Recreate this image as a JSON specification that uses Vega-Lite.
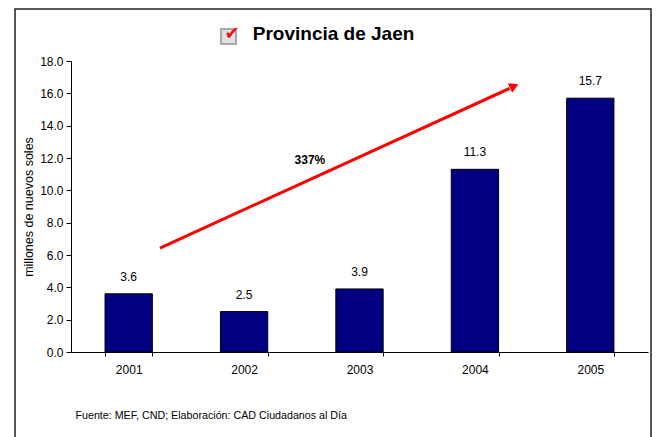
{
  "$schema": "https://vega.github.io/schema/vega-lite/v6.json",
  "width": 577,
  "height": 291,
  "autosize": "none",
  "padding": {"left": 71, "top": 61, "right": 16, "bottom": 85},
  "background": "white",
  "config": {
    "view": {"stroke": null},
    "font": "Liberation Sans",
    "axis": {"labelFont": "Liberation Sans", "titleFont": "Liberation Sans", "labelColor": "black", "titleColor": "black", "domainColor": "black", "tickColor": "black", "grid": false, "labelOverlap": false}
  },
  "data": {
    "values": [
      {"year": "2001", "value": 3.6},
      {"year": "2002", "value": 2.5},
      {"year": "2003", "value": 3.9},
      {"year": "2004", "value": 11.3},
      {"year": "2005", "value": 15.7}
    ]
  },
  "layer": [
    {
      "layer": [
        {
          "mark": {"type": "bar", "color": "#000080", "stroke": "black", "strokeWidth": 1},
          "encoding": {
            "x": {
              "field": "year", "type": "nominal",
              "scale": {"paddingInner": 0.59, "paddingOuter": 0.295},
              "axis": {
                "labelAngle": 0, "tickBand": "extent", "tickSize": 4, "labelPadding": 8, "labelFontSize": 12,
                "title": "Fuente: MEF, CND; Elaboración: CAD Ciudadanos al Día",
                "titleFontSize": 10.7, "titleFontWeight": "normal", "titleAnchor": "start", "titleAlign": "left",
                "titleX": 4, "titleY": 63, "titleBaseline": "middle"
              }
            },
            "y": {
              "field": "value", "type": "quantitative",
              "scale": {"domain": [0, 18], "nice": false},
              "axis": {
                "values": [0, 2, 4, 6, 8, 10, 12, 14, 16, 18], "format": ".1f", "tickSize": 5, "labelPadding": 3, "labelFontSize": 12, "labelOverlap": false,
                "title": "millones de nuevos soles", "titleFontSize": 12.5, "titleFontWeight": "normal", "titlePadding": 4
              }
            }
          }
        },
        {
          "mark": {"type": "text", "fontSize": 12, "baseline": "alphabetic", "dy": -13, "color": "black"},
          "encoding": {
            "x": {"field": "year", "type": "nominal"},
            "y": {
              "field": "value", "type": "quantitative",
              "axis": {
                "values": [0, 2, 4, 6, 8, 10, 12, 14, 16, 18], "format": ".1f", "tickSize": 5, "labelPadding": 3, "labelFontSize": 12, "labelOverlap": false,
                "title": "millones de nuevos soles", "titleFontSize": 12.5, "titleFontWeight": "normal", "titlePadding": 4
              }
            },
            "text": {"field": "value", "type": "quantitative", "format": ".1f"}
          }
        }
      ]
    },
    {
      "data": {"values": [{}]},
      "layer": [
        {
          "mark": {"type": "rule", "color": "#ff0000", "strokeWidth": 3, "clip": false},
          "encoding": {
            "x": {"datum": 0.771, "type": "quantitative", "scale": {"domain": [0, 5], "nice": false, "zero": false}, "axis": null},
            "y": {"datum": 6.43, "type": "quantitative", "scale": {"domain": [0, 18], "nice": false, "zero": false}, "axis": null},
            "x2": {"datum": 3.8},
            "y2": {"datum": 16.3}
          }
        },
        {
          "mark": {"type": "point", "shape": "triangle-right", "filled": true, "color": "#ff0000", "opacity": 1, "size": 110, "angle": 335.5, "clip": false},
          "encoding": {
            "x": {"datum": 3.84, "type": "quantitative", "axis": null},
            "y": {"datum": 16.44, "type": "quantitative", "axis": null}
          }
        },
        {
          "mark": {"type": "text", "fontSize": 12, "fontWeight": "bold", "color": "black", "clip": false},
          "encoding": {
            "x": {"datum": 2.07, "type": "quantitative", "axis": null},
            "y": {"datum": 11.87, "type": "quantitative", "axis": null},
            "text": {"value": "337%"}
          }
        },
        {
          "mark": {"type": "text", "fontSize": 19, "fontWeight": "bold", "color": "black", "baseline": "alphabetic", "align": "center", "clip": false},
          "encoding": {
            "x": {"datum": 2.275, "type": "quantitative", "axis": null},
            "y": {"datum": 19.29, "type": "quantitative", "axis": null},
            "text": {"value": "Provincia de Jaen"}
          }
        },
        {
          "mark": {"type": "point", "shape": "square", "filled": true, "fill": "#e0e0e0", "stroke": "#a8a8a8", "strokeWidth": 2, "opacity": 1, "size": 225, "clip": false},
          "encoding": {
            "x": {"datum": 1.365, "type": "quantitative", "axis": null},
            "y": {"datum": 19.51, "type": "quantitative", "axis": null}
          }
        },
        {
          "mark": {"type": "text", "font": "DejaVu Sans", "fontSize": 18, "fontWeight": "bold", "color": "#ee1111", "baseline": "middle", "clip": false},
          "encoding": {
            "x": {"datum": 1.395, "type": "quantitative", "axis": null},
            "y": {"datum": 19.67, "type": "quantitative", "axis": null},
            "text": {"value": "✔"}
          }
        },
        {
          "mark": {"type": "rect", "fill": null, "filled": false, "stroke": "#222222", "strokeWidth": 1.5, "clip": false},
          "encoding": {
            "x": {"datum": -0.485, "type": "quantitative", "axis": null},
            "x2": {"datum": 5.026},
            "y": {"datum": 21.21, "type": "quantitative", "axis": null},
            "y2": {"datum": -5.6}
          }
        }
      ]
    }
  ],
  "resolve": {"scale": {"x": "independent", "y": "independent"}}
}
